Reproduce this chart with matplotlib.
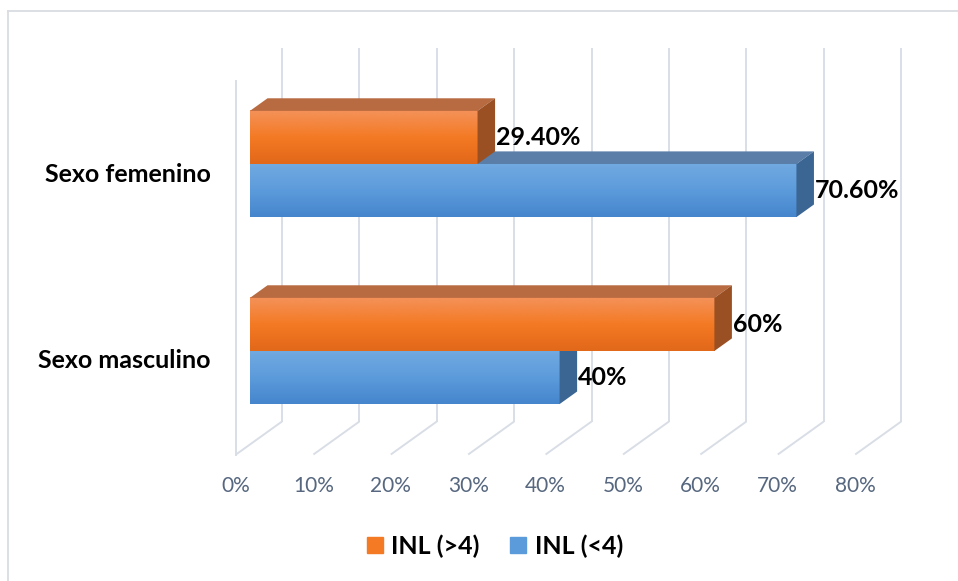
import matplotlib
matplotlib.use("Agg")
import matplotlib.pyplot as plt
import numpy as np
from matplotlib.patches import Polygon
from matplotlib.colors import LinearSegmentedColormap
from matplotlib.lines import Line2D

# ---------------- data ----------------
categories = ["Sexo masculino", "Sexo femenino"]
series_names = ["INL (>4)", "INL (<4)"]
inl_gt4 = [60.0, 29.4]
inl_lt4 = [40.0, 70.6]
labels_gt4 = ["60%", "29.40%"]
labels_lt4 = ["40%", "70.60%"]
ticks = [0, 10, 20, 30, 40, 50, 60, 70, 80]
tick_labels = ["0%", "10%", "20%", "30%", "40%", "50%", "60%", "70%", "80%"]

# ---------------- styling ----------------
plt.rcParams['font.family'] = ['Lato', 'DejaVu Sans']
W, H = 958, 581
fig = plt.figure(figsize=(W / 100, H / 100), dpi=100)
fig.patch.set_facecolor('white')
ax = fig.add_axes([0, 0, 1, 1])
ax.axis('off')

PX_PER_VAL = 7.74
PX_PER_CAT = 187.0
X0_PX, Y0_PX = 236.0, 361.0
DX = 46.0 / PX_PER_VAL
DY = 33.0 / PX_PER_CAT
D0, D1 = 0.304, 0.685
BAR_H = 0.284
C_MIN, C_MAX = -0.5, len(categories) - 0.5


def P(v, c, d):
    return (v + d * DX, c + d * DY)


GRID = '#D9DEE6'
# back wall and floor gridlines
for t in ticks:
    a = P(t, C_MIN, 1); b = P(t, C_MAX, 1); f = P(t, C_MIN, 0)
    ax.plot([a[0], b[0]], [a[1], b[1]], color=GRID, lw=1.4, zorder=1, solid_capstyle='butt')
    ax.plot([a[0], f[0]], [a[1], f[1]], color=GRID, lw=1.4, zorder=1, solid_capstyle='butt')
# left wall front edge
a = P(0, C_MIN, 0); b = P(0, C_MAX, 0)
ax.plot([a[0], b[0]], [a[1], b[1]], color=GRID, lw=1.4, zorder=1)

# tick labels
for t, lab in zip(ticks, tick_labels):
    ax.annotate(lab, xy=P(t, C_MIN, 0), xytext=(0, -31 * 0.72), textcoords='offset points',
                ha='center', va='center', fontsize=15, color='#56677F')

# category labels
for i, cat in enumerate(categories):
    ax.annotate(cat, xy=P(0, i, 0), xytext=(-25 * 0.72, 0), textcoords='offset points',
                ha='right', va='center', fontsize=18, fontweight='bold', color='black')

orange = dict(top='#F4925A', mid='#F47A24', bot='#E2681A', lid='#B86A40', side='#9B5023')
blue = dict(top='#72AAE1', mid='#5C9BDB', bot='#4585CC', lid='#5A7EA8', side='#3B6593')


def draw_bar(v, c_lo, c_hi, col, z, label):
    cmap = LinearSegmentedColormap.from_list('g', [col['bot'], col['mid'], col['top']])
    grad = np.linspace(0, 1, 256).reshape(-1, 1)
    x0 = P(0, c_lo, D0)[0]
    x1 = P(v, c_lo, D0)[0]
    ax.imshow(grad, extent=[x0, x1, c_lo + D0 * DY, c_hi + D0 * DY], origin='lower',
              aspect='auto', cmap=cmap, zorder=z, interpolation='bilinear')
    lid = [P(0, c_hi, D0), P(v, c_hi, D0), P(v, c_hi, D1), P(0, c_hi, D1)]
    ax.add_patch(Polygon(lid, closed=True, facecolor=col['lid'], edgecolor='none', zorder=z))
    side = [P(v, c_lo, D0), P(v, c_hi, D0), P(v, c_hi, D1), P(v, c_lo, D1)]
    ax.add_patch(Polygon(side, closed=True, facecolor=col['side'], edgecolor='none', zorder=z))
    lx = P(v, c_lo, D1)[0]
    ly = (c_lo + c_hi) / 2 + D0 * DY
    ax.annotate(label, xy=(lx, ly), xytext=(0.5, 0), textcoords='offset points',
                ha='left', va='center', fontsize=18, fontweight='bold', color='black', zorder=z + 5)


z = 2
for i in range(len(categories)):
    draw_bar(inl_lt4[i], i - BAR_H, i, blue, z, labels_lt4[i]); z += 1
    draw_bar(inl_gt4[i], i, i + BAR_H, orange, z, labels_gt4[i]); z += 1

ax.set_xlim(-X0_PX / PX_PER_VAL, (W - X0_PX) / PX_PER_VAL)
ax.set_ylim((Y0_PX - H) / PX_PER_CAT, Y0_PX / PX_PER_CAT)

# legend
handles = [Line2D([], [], marker='s', linestyle='none', markersize=11.5, color=orange['mid']),
           Line2D([], [], marker='s', linestyle='none', markersize=11.5, color=blue['mid'])]
leg = fig.legend(handles, series_names, loc='center', bbox_to_anchor=(494.5 / W, 1 - 546 / H),
                 ncol=2, frameon=False, handlelength=0.7, handletextpad=0.3, columnspacing=1.2,
                 prop={'size': 18, 'weight': 'bold'})

# chart frame (left and top edges visible)
fig.add_artist(Line2D([8 / W, 8 / W], [0, 1 - 11 / H], color='#D9DDE3', lw=1.3))
fig.add_artist(Line2D([8 / W, 1], [1 - 11 / H, 1 - 11 / H], color='#D9DDE3', lw=1.3))

fig.savefig('out.png', dpi=100, facecolor='white')
